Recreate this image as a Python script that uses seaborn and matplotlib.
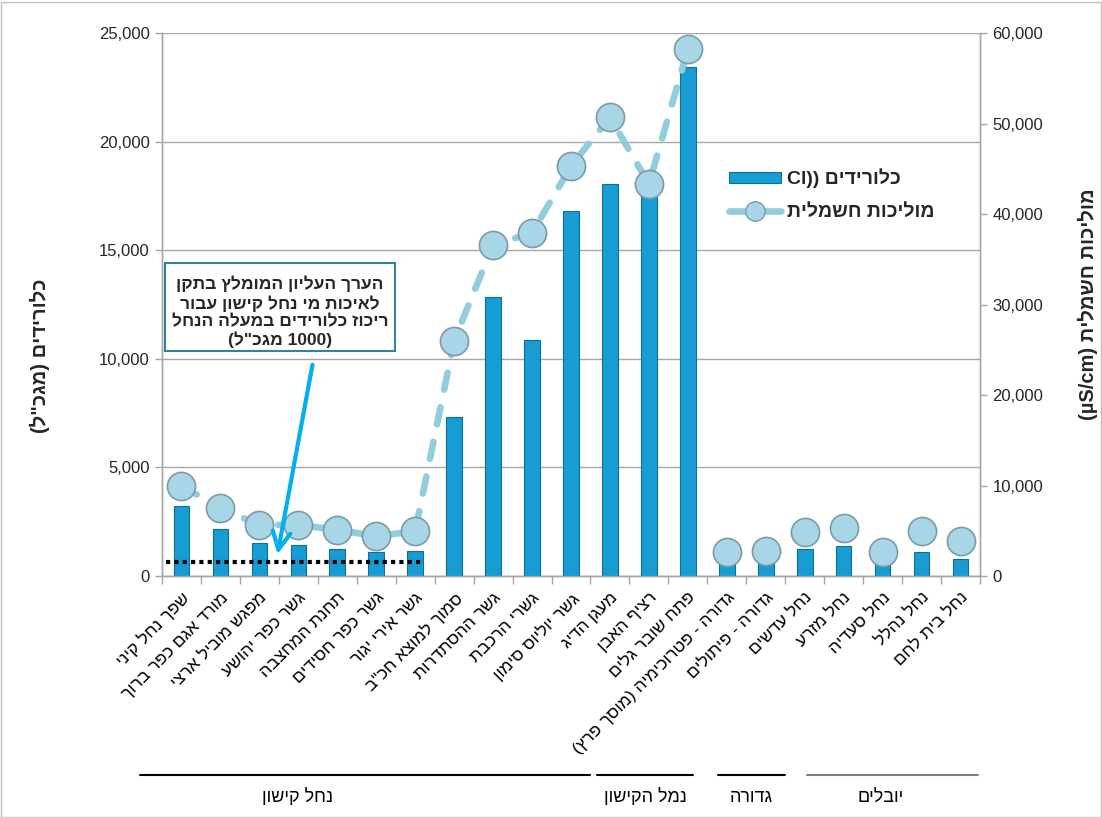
import re
import matplotlib
matplotlib.use("Agg")
import matplotlib.pyplot as plt
import seaborn as sns
import pandas as pd
import numpy as np
from matplotlib.lines import Line2D
from matplotlib.patches import Patch, Rectangle, FancyArrowPatch

# ---------------- data ----------------
stations = [
    "שפך נחל קיני", "מורד אגם כפר ברוך", "מפגש מוביל ארצי", "גשר כפר יהושע",
    "תחנת המחצבה", "גשר כפר חסידים", "גשר אירי יגור", 'סמוך למוצא חכ"ב',
    "גשר ההסתדרות", "גשרי הרכבת", "גשר יוליוס סימון", "מעגן הדיג",
    "רציף האבן", "פתח שובר גלים", "גדורה - פטרוכימיה (מוסך פרץ)",
    "גדורה - פיתולים", "נחל עדשים", "נחל מזרע", "נחל סעדיה", "נחל נהלל",
    "נחל בית לחם",
]
chloride = [3200, 2150, 1500, 1450, 1240, 1100, 1150, 7320, 12850, 10870,
            16800, 18050, 17900, 23430, 640, 600, 1240, 1380, 550, 1100, 780]
conductivity = [9950, 7500, 5650, 5650, 5100, 4400, 4950, 26000, 36600, 37900,
                45300, 50700, 43300, 58200, 2650, 2750, 4850, 5300, 2650, 4950, 3850]
connected_count = 14          # conductivity line drawn through the first 14 stations
limit_value = 650             # dotted reference line
limit_first, limit_last = 0, 6
left_ticks = [0, 5000, 10000, 15000, 20000, 25000]
right_ticks = [0, 10000, 20000, 30000, 40000, 50000, 60000]

groups = ["נחל קישון", "נמל הקישון", "גדורה", "יובלים"]
note_lines = ["הערך העליון המומלץ בתקן", "לאיכות מי נחל קישון עבור",
              "ריכוז כלורידים במעלה הנחל", '(1000 מגכ"ל)']
legend_bar = "כלורידים ((Cl"
legend_line = "מוליכות חשמלית"
ylabel_left = 'כלורידים (מגכ"ל)'
ylabel_right = "מוליכות חשמלית (µS/cm)"

# ---------------- helpers: visual order for RTL text ----------------
MIRROR = {"(": ")", ")": "("}


def vis(s):
    parts = re.split(r"([A-Za-z0-9µ/]+(?:[.,][0-9]+)*)", s)
    out = []
    for i, p in enumerate(parts):
        if i % 2 == 1:
            out.append(p)
        else:
            out.append("".join(MIRROR.get(c, c) for c in reversed(p)))
    return "".join(reversed(out))


df = pd.DataFrame({"station": stations, "chloride": chloride,
                   "cond": conductivity, "pos": np.arange(len(stations))})

sns.set_theme(style="white")
plt.rcParams["font.family"] = ["Liberation Sans", "DejaVu Sans"]

W, H = 1102, 817
fig = plt.figure(figsize=(W / 100, H / 100), dpi=100)
ax = fig.add_axes([162 / W, 1 - 576 / H, 818 / W, 543 / H])

BAR = "#179CD3"
BAR_EDGE = "#0D6F9B"
LINE = "#92CDDC"
MARK = "#A8D6E6"
MARK_EDGE = "#7C9BA6"
GRID = "#A6A6A6"

sns.barplot(data=df, x="station", y="chloride", order=stations, color=BAR,
            saturation=1, width=0.4, edgecolor=BAR_EDGE, linewidth=0.8, ax=ax,
            zorder=3)

ax.set_ylim(0, 25000)
ax.set_yticks(left_ticks)
ax.set_yticklabels([f"{v:,}" for v in left_ticks], fontsize=12, color="#262626")
ax.grid(axis="y", color=GRID, linewidth=1)
ax.set_axisbelow(True)

# dotted reference line
ax.plot([limit_first - 0.41, limit_last + 0.21], [limit_value, limit_value],
        color="black", linestyle=(0, (1, 1)), linewidth=3, zorder=6)

ax2 = ax.twinx()
sns.lineplot(data=df.iloc[:connected_count], x="pos", y="cond", ax=ax2,
             color=LINE, linewidth=4.8, linestyle=(0, (2.6, 2.7)),
             dash_capstyle="round", zorder=3)
sns.scatterplot(data=df, x="pos", y="cond", ax=ax2, s=410, color=MARK,
                edgecolor=MARK_EDGE, linewidth=1.2, zorder=5)
ax2.set_ylim(0, 60000)
ax2.set_yticks(right_ticks)
ax2.set_yticklabels([f"{v:,}" for v in right_ticks], fontsize=12, color="#262626")

ax.set_xlim(-0.5, len(stations) - 0.5)
ax2.set_xlim(-0.5, len(stations) - 0.5)
ax.set_xticks(range(len(stations)))
ax.set_xticklabels([vis(s) for s in stations], rotation=45, ha="right",
                   va="top", rotation_mode="anchor", fontsize=12.5, color="#000000")
ax.set_xticks(np.arange(-0.5, len(stations), 1), minor=True)
ax.tick_params(axis="x", which="major", length=0, pad=10)
ax.tick_params(axis="x", which="minor", length=6, color=GRID, width=1, bottom=True)
ax.tick_params(axis="y", length=5, color=GRID, width=1, left=True, pad=4)
ax2.tick_params(axis="y", length=5, color=GRID, width=1, right=True, pad=4)
ax.set_xlabel("")
ax2.set_xlabel("")

for a in (ax, ax2):
    a.spines["top"].set_visible(False)
    for side in ("left", "right", "bottom"):
        a.spines[side].set_color(GRID)
        a.spines[side].set_linewidth(1)

ax.set_ylabel(vis(ylabel_left), fontsize=14.5, fontweight="bold", rotation=90)
ax.yaxis.set_label_coords(-0.137, 0.405)
ax2.set_ylabel(vis(ylabel_right), fontsize=14.5, fontweight="bold", rotation=90)
ax2.yaxis.set_label_coords(1.120, 0.5)

# legend
h_bar = Patch(facecolor=BAR, edgecolor=BAR_EDGE, linewidth=0.8)
h_line = Line2D([], [], color=LINE, linewidth=4.8, marker="o", markersize=14,
                markerfacecolor=MARK, markeredgecolor=MARK_EDGE, solid_capstyle="round")
leg = ax2.legend([h_bar, h_line], [vis(legend_bar), vis(legend_line)],
                 loc="upper left", bbox_to_anchor=(711 / W, 1 - 151 / H),
                 bbox_transform=fig.transFigure, frameon=False,
                 prop={"size": 14, "weight": "bold"}, handlelength=2.7,
                 handleheight=0.5, handletextpad=0.3, labelspacing=0.8,
                 numpoints=1)

# annotation box and arrow
fig.add_artist(Rectangle((165 / W, 1 - 351 / H), 230 / W, 88 / H,
                         transform=fig.transFigure, facecolor="white",
                         edgecolor="#31849B", linewidth=1.5, zorder=10))
note = "\n".join(vis(t) for t in note_lines)
fig.text(280 / W, 1 - 312 / H, note, ha="center", va="center", fontsize=12.5,
         fontweight="bold", linespacing=1.2, zorder=11)
fig.add_artist(FancyArrowPatch((313 / W, 1 - 362 / H), (277 / W, 1 - 557 / H),
                               transform=fig.transFigure, arrowstyle="->",
                               mutation_scale=32, color="#00B0F0", linewidth=3,
                               zorder=12))

# group brackets under the axis
group_spans = [(140, 590, "black"), (597, 693, "black"), (718, 785, "black"),
               (807, 978, "#7F7F7F")]
group_centers = [297, 645, 751, 881]
for (x0, x1, c), xc, g in zip(group_spans, group_centers, groups):
    fig.add_artist(Line2D([x0 / W, x1 / W], [1 - 775 / H, 1 - 775 / H],
                          transform=fig.transFigure, color=c, linewidth=1.5))
    fig.text(xc / W, 1 - 797 / H, vis(g), ha="center", va="center",
             fontsize=13, color="#000000")

# thin figure frame
fig.add_artist(Rectangle((0.5 / W, 0.5 / H), (W - 2) / W, (H - 2) / H,
                         transform=fig.transFigure, fill=False,
                         edgecolor="#BFBFBF", linewidth=1))

fig.savefig("out.png", dpi=100)
